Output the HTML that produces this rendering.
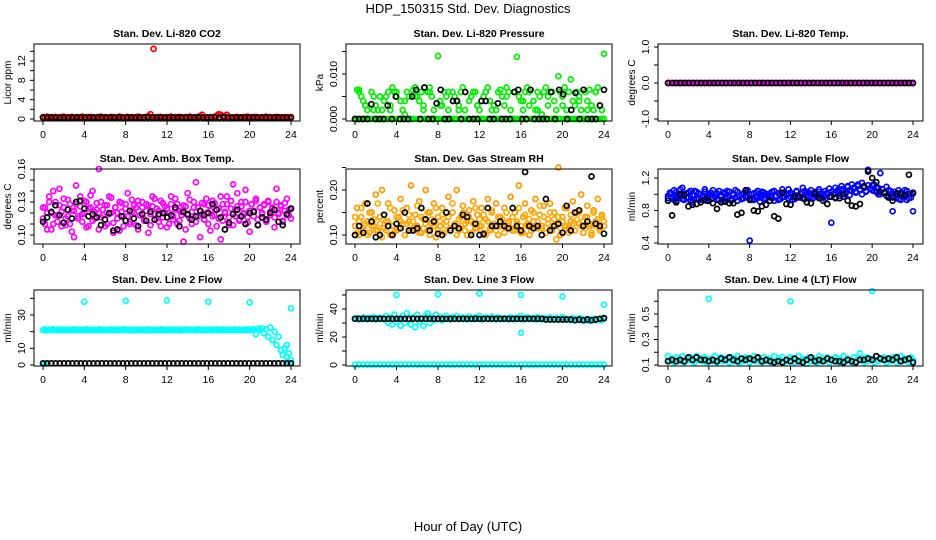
<!DOCTYPE html>
<html><head><meta charset="utf-8"><style>
html,body{margin:0;padding:0;background:#fff;}
svg{display:block;font-family:"Liberation Sans",sans-serif;}
</style></head><body>
<svg id="chart" width="936" height="540" viewBox="0 0 936 540">
<rect x="0" y="0" width="936" height="540" fill="#fff"/>
<text x="468" y="13" text-anchor="middle" font-size="13">HDP_150315  Std. Dev. Diagnostics</text>
<text x="468" y="531" text-anchor="middle" font-size="13">Hour of Day (UTC)</text>
</svg>
<script>
// ---------- data ----------
const hourTicks = [0,4,8,12,16,20,24];
const co2Red = [0.4,0.3,0.5,0.35,0.4,0.3,0.45,0.35,0.3,0.4,0.5,0.35,0.3,0.4,0.45,0.3,0.35,0.4,0.3,0.5,0.35,0.4,0.3,0.45,0.35,0.3,0.4,0.35,0.5,0.3,0.4,0.35,0.3,0.45,0.4,0.3,0.35,0.5,0.4,0.3,0.35,0.45,0.3,0.4,0.35,0.3,0.5,0.4,0.35,0.3,0.45,0.6,1.0,0.4,0.35,0.3,0.4,0.45,0.3,0.35,0.4,0.3,0.5,0.35,0.4,0.3,0.45,0.35,0.3,0.4,0.35,0.5,0.3,0.4,0.35,0.45,0.6,0.9,0.4,0.3,0.35,0.4,0.3,0.5,0.7,1.0,0.9,0.5,0.6,0.9,0.4,0.35,0.3,0.4,0.45,0.3,0.35,0.4,0.3,0.5,0.35,0.4,0.3,0.45,0.35,0.3,0.4,0.35,0.5,0.3,0.4,0.35,0.3,0.45,0.4,0.3,0.35,0.4,0.3,0.35,0.4];
const co2OutX = [10.7];
const co2OutY = [14.5];
const co2Black = [0.3,0.3,0.3,0.3,0.3,0.3,0.3,0.3,0.3,0.3,0.3,0.3,0.3,0.3,0.3,0.3,0.3,0.3,0.3,0.3,0.3,0.3,0.3,0.3,0.3,0.3,0.3,0.3,0.3,0.3,0.3,0.3,0.3,0.3,0.3,0.3,0.3,0.3,0.3,0.3,0.3,0.3,0.3,0.3,0.3,0.3,0.3,0.3,0.3,0.3,0.3,0.3,0.3,0.3,0.3,0.3,0.3,0.3,0.3,0.3];

// pressure in units of 0.001 kPa
const presGreenA = [0,6.5,6.5,5,4,3,2,0,6,5,3,2,0,2,4,5,6,3,7,6,5,0,4,2,1,6,5,0,6.5,7,5,4,6,3,0,6,7,5,2,0,14,4,3,6,5,2,0,6,5,4,3,6,7,2,0,4,5,6,6,3,2,0,5,6,7,4,2,3,0,6,6.5,5,3,7,6,2,0,6,13.8,5,4,2,6,7,3,0,4,2,6,5,1,6,7,3,0,6,4,2,9.5,6,5,7,2,0,8.8,4,3,6,5,2,0,6,4,6.5,3,2,6,7,3,2,14.5];
const presGreenB = [0,0,6,0,0,3,0,0,0,2,0,0,5,0,0,0,0,2,0,0,6,0,0,0,4,0,0,0,0,5,0,0,0,2,0,0,6,0,0,0,0,3,0,0,0,6,0,0,0,0,2,0,0,0,0,0,5,0,0,3,0,0,0,6,0,0,0,0,2,0,0,0,0,5,0,0,0,0,0,0,0,4,0,0,6,0,0,0,2,0,0,0,0,5,0,0,0,0,0,0,3,0,0,6,0,0,0,0,4,0,0,0,2,0,0,0,6,0,0,0,0];
const presBlack = [0,0,0,0,3.3,0,0,0,3,0,5,0,0,0,5,6.5,0,7,0,0,3.5,6.5,0,0,4,4,0,6,0,0,0,4,4,0,0,3.5,0,0,0,6,6.5,0,0,6.5,0,0,0,0,6,0,6.5,5.5,0,2,5.8,0,6.5,0,0,0,3,6.5];

const tempMag = [0,0,0,0,0,0,0,0,0,0,0,0,0,0,0,0,0,0,0,0,0,0,0,0,0,0,0,0,0,0,0,0,0,0,0,0,0,0,0,0,0,0,0,0,0,0,0,0,0,0,0,0,0,0,0,0,0,0,0,0,0,0,0,0,0,0,0,0,0,0,0,0,0,0,0,0,0,0,0,0,0,0,0,0,0,0,0,0,0,0,0,0,0,0,0,0,0,0,0,0,0,0,0,0,0,0,0,0,0,0,0,0,0,0,0,0,0,0,0,0,0];
const tempBlack = [0,0,0,0,0,0,0,0,0,0,0,0,0,0,0,0,0,0,0,0,0,0,0,0,0,0,0,0,0,0,0,0,0,0,0,0,0,0,0,0,0,0,0,0,0,0,0,0,0,0,0,0,0,0,0,0,0,0,0,0];

const ambMagA = [0.115,0.125,0.105,0.135,0.12,0.11,0.13,0.118,0.142,0.108,0.125,0.115,0.132,0.11,0.122,0.098,0.128,0.117,0.135,0.112,0.12,0.13,0.108,0.125,0.14,0.115,0.123,0.105,0.13,0.118,0.127,0.11,0.135,0.12,0.102,0.125,0.115,0.13,0.121,0.108,0.128,0.117,0.11,0.132,0.12,0.125,0.105,0.118,0.13,0.113,0.122,0.127,0.109,0.135,0.119,0.124,0.112,0.131,0.116,0.126,0.107,0.12,0.128,0.114,0.133,0.11,0.122,0.118,0.127,0.105,0.138,0.115,0.121,0.13,0.112,0.125,0.098,0.119,0.128,0.133,0.11,0.122,0.117,0.129,0.108,0.124,0.135,0.113,0.12,0.128,0.116,0.131,0.109,0.123,0.138,0.114,0.126,0.119,0.13,0.111,0.122,0.128,0.117,0.133,0.109,0.125,0.12,0.128,0.113,0.131,0.118,0.124,0.107,0.13,0.12,0.126,0.112,0.129,0.118,0.123,0.115];
const ambMagB = [0.125,0.11,0.12,0.13,0.105,0.14,0.118,0.112,0.127,0.121,0.133,0.109,0.117,0.128,0.103,0.122,0.145,0.115,0.126,0.119,0.131,0.107,0.124,0.136,0.113,0.121,0.129,0.16,0.116,0.123,0.108,0.127,0.119,0.134,0.111,0.125,0.12,0.104,0.129,0.117,0.124,0.138,0.112,0.121,0.127,0.109,0.131,0.118,0.125,0.114,0.128,0.102,0.119,0.126,0.133,0.115,0.122,0.108,0.129,0.12,0.124,0.11,0.135,0.117,0.123,0.128,0.113,0.121,0.094,0.126,0.118,0.132,0.11,0.125,0.148,0.117,0.122,0.129,0.114,0.12,0.127,0.104,0.131,0.118,0.123,0.115,0.096,0.128,0.121,0.135,0.109,0.124,0.146,0.117,0.126,0.113,0.13,0.12,0.141,0.116,0.103,0.128,0.122,0.131,0.114,0.125,0.119,0.127,0.112,0.13,0.121,0.125,0.116,0.142,0.119,0.127,0.113,0.122,0.133,0.118,0.124];
const ambBlack = [0.112,0.116,0.121,0.127,0.118,0.111,0.123,0.115,0.130,0.131,0.124,0.117,0.119,0.116,0.109,0.114,0.120,0.104,0.105,0.117,0.113,0.122,0.115,0.108,0.119,0.113,0.121,0.114,0.119,0.120,0.116,0.118,0.125,0.108,0.121,0.119,0.114,0.117,0.122,0.118,0.120,0.128,0.123,0.116,0.105,0.111,0.119,0.123,0.117,0.110,0.120,0.121,0.109,0.116,0.114,0.120,0.123,0.112,0.109,0.119,0.124];

const rhA = [0.12,0.16,0.10,0.14,0.11,0.17,0.13,0.105,0.15,0.12,0.19,0.11,0.14,0.20,0.115,0.13,0.17,0.10,0.12,0.155,0.11,0.14,0.18,0.125,0.10,0.16,0.13,0.21,0.115,0.145,0.12,0.175,0.105,0.135,0.20,0.11,0.15,0.125,0.17,0.095,0.14,0.12,0.16,0.105,0.13,0.185,0.115,0.15,0.12,0.20,0.11,0.14,0.165,0.125,0.10,0.155,0.13,0.175,0.115,0.145,0.12,0.16,0.105,0.135,0.18,0.11,0.15,0.125,0.17,0.10,0.14,0.12,0.16,0.115,0.13,0.185,0.11,0.15,0.125,0.21,0.105,0.14,0.17,0.12,0.10,0.155,0.13,0.18,0.115,0.145,0.12,0.165,0.105,0.135,0.17,0.11,0.15,0.125,0.25,0.10,0.14,0.12,0.16,0.115,0.13,0.175,0.11,0.15,0.125,0.19,0.105,0.14,0.165,0.12,0.10,0.155,0.13,0.18,0.115,0.145,0.12];
const rhB = [0.14,0.105,0.13,0.16,0.115,0.125,0.10,0.15,0.12,0.135,0.11,0.17,0.125,0.095,0.145,0.11,0.13,0.16,0.12,0.105,0.14,0.115,0.13,0.155,0.10,0.125,0.145,0.11,0.13,0.12,0.165,0.105,0.14,0.115,0.125,0.15,0.10,0.135,0.12,0.16,0.11,0.13,0.145,0.105,0.12,0.14,0.115,0.17,0.125,0.10,0.135,0.12,0.15,0.11,0.13,0.14,0.105,0.125,0.16,0.115,0.135,0.12,0.145,0.10,0.13,0.115,0.155,0.125,0.11,0.14,0.12,0.135,0.105,0.15,0.125,0.115,0.14,0.11,0.13,0.16,0.12,0.105,0.145,0.125,0.135,0.11,0.15,0.12,0.13,0.165,0.115,0.14,0.105,0.125,0.15,0.12,0.135,0.09,0.14,0.115,0.13,0.16,0.12,0.105,0.145,0.125,0.11,0.135,0.15,0.12,0.13,0.115,0.14,0.125,0.105,0.15,0.12,0.135,0.11,0.14,0.13];
const rhBlack = [0.10,0.12,0.105,0.17,0.13,0.095,0.10,0.145,0.12,0.10,0.125,0.115,0.15,0.11,0.11,0.115,0.16,0.135,0.11,0.13,0.103,0.10,0.15,0.11,0.12,0.115,0.145,0.14,0.10,0.125,0.10,0.102,0.16,0.12,0.12,0.13,0.12,0.115,0.16,0.12,0.11,0.24,0.12,0.115,0.12,0.10,0.18,0.11,0.12,0.125,0.105,0.165,0.11,0.15,0.155,0.12,0.13,0.23,0.125,0.12,0.103];

const flowBlueA = [0.98,1.02,0.95,1.05,0.92,1.0,0.97,1.08,0.93,1.01,0.96,1.04,0.9,0.99,1.03,0.94,1.0,0.97,1.06,0.92,0.98,1.02,0.95,1.0,0.93,1.04,0.97,0.91,1.01,0.96,1.03,0.94,0.99,1.05,0.92,0.98,1.0,0.95,1.02,0.97,0.43,0.93,1.01,0.96,1.04,0.91,0.99,1.02,0.95,1.0,0.97,1.03,0.92,0.98,1.01,0.94,1.06,0.97,1.0,0.95,1.02,0.93,0.99,1.04,0.96,1.0,1.08,0.94,1.02,0.97,1.05,0.95,1.01,0.98,1.03,0.96,1.0,0.94,1.02,0.97,0.65,1.0,0.95,1.03,0.98,1.06,0.97,1.01,1.1,0.99,1.04,1.08,1.02,1.12,1.05,1.0,1.09,1.03,1.3,1.07,1.11,1.04,1.08,1.0,1.26,1.06,1.02,1.09,0.98,1.04,0.79,1.0,0.96,1.05,0.93,1.01,0.97,1.04,0.95,1.0,0.79];
const flowBlueB = [0.95,1.0,0.97,0.93,1.03,0.98,1.06,0.94,1.0,0.96,1.02,0.92,0.99,1.04,0.95,1.01,0.93,0.98,1.03,0.96,1.0,0.94,1.05,0.97,1.01,0.93,0.99,1.02,0.95,1.04,0.97,0.92,1.0,0.96,1.03,0.98,0.94,1.01,0.97,1.05,0.95,1.0,0.93,1.02,0.98,0.96,1.03,0.94,1.0,0.97,1.01,0.95,1.04,0.98,0.93,1.0,0.96,1.02,0.99,1.06,0.97,1.0,0.94,1.03,0.98,1.01,0.95,1.04,0.99,1.02,0.96,1.0,1.03,0.97,1.06,1.0,0.97,1.04,1.01,1.07,1.03,1.0,1.08,1.05,1.02,1.1,1.06,1.03,1.09,1.05,1.12,1.07,1.03,1.1,1.06,1.14,1.08,1.04,1.11,1.07,1.05,1.12,1.03,1.08,1.0,1.06,1.02,0.98,1.05,1.0,0.96,1.03,0.99,0.94,1.02,0.97,1.05,0.93,1.0,0.96,1.02];
const flowBlack = [0.92,0.74,0.9,1.0,0.99,0.85,0.87,0.88,0.9,0.93,0.92,0.89,0.82,0.9,0.91,0.89,0.89,0.75,0.77,1.05,0.93,0.8,0.79,0.85,0.87,0.92,0.73,0.7,1.02,0.88,0.87,0.97,0.98,0.95,0.9,0.89,1.01,0.95,0.92,0.88,0.97,0.96,0.95,1.0,0.92,0.86,0.85,0.88,1.1,1.28,1.2,1.15,1.03,1.02,0.96,0.92,1.01,1.0,0.99,1.24,1.01];

const line2Cyan = [
21,21.3,20.8,21.2,21,21.4,20.9,21.1,21,21.3,
20.8,21.2,21,21.1,20.9,21.3,21,21.2,20.8,21.1,
21,21.4,20.9,21.2,21,21.1,20.8,21.3,21,21.2,
20.9,21.1,21,21.3,20.8,21.2,21,21.1,20.9,21.4,
21,21.2,20.8,21.1,21,21.3,20.9,21.2,21,21.1,
20.8,21.3,21,21.2,20.9,21.1,21,21.4,20.8,21.2,
21,21.1,20.9,21.3,21,21.2,20.8,21.1,21,21.3,
20.9,21.2,21,21.1,20.8,21.4,21,21.2,20.9,21.1,
21,21.3,20.8,21.2,21,21.1,20.9,21.3,21,21.2,
20.8,21.1,21,21.3,20.9,21.2,21,21.1,20.8,21.4,
21,21.2,21.5,18.5,21.8,21,22,19,21.5,17,
22.5,15,20,12,17,9,6,10,5,7,3];
const line2Low = [0.8,0.8,1.0,1.2,12];
const line2LowX = [0.1,0.2,23.8,24,23.6];
const line2OutX = [4,8,12,16,20,24];
const line2OutY = [38,38.5,38.7,38,37.5,34];
const line2Black = [1,1,1,1,1,1,1,1,1,1,1,1,1,1,1,1,1,1,1,1,1,1,1,1,1,1,1,1,1,1,1,1,1,1,1,1,1,1,1,1,1,1,1,1,1,1,1,1,1,1,1,1,1,1,1,1,1,1,1,1];

const line3Cyan = [33,33.5,32.5,33,34,33,32.8,33.5,33,34,32.5,33,33.8,33,32.6,35,30,34,29,36,31,33,28,35,30,37,32,29,34,27,36,31,33,28,35,37,30,34,32,36,33,34.5,32,33,35,33,32.5,34,33,35,32.8,33,34,33,32.5,34.5,33,32.8,34,33,35,32.5,33,34,33,32.8,34.5,33,32.5,34,33,32.8,33.5,33,32.5,34,33,32.6,33.8,33,35,32.5,33,34,32.8,33,33.5,32.5,34,33,32.6,33.5,32.8,33,34,32.5,33,33.5,32.4,33,34,32.5,33,32.8,32,33.5,32.5,33,32,33.5,32.4,32,33,31.5,32.5,33,31.8,32.5,33,32,33];
const line3Zero = [0.3,0.3,0.3,0.3,0.3,0.3,0.3,0.3,0.3,0.3,0.3,0.3,0.3,0.3,0.3,0.3,0.3,0.3,0.3,0.3,0.3,0.3,0.3,0.3,0.3,0.3,0.3,0.3,0.3,0.3,0.3,0.3,0.3,0.3,0.3,0.3,0.3,0.3,0.3,0.3,0.3,0.3,0.3,0.3,0.3,0.3,0.3,0.3,0.3,0.3,0.3,0.3,0.3,0.3,0.3,0.3,0.3,0.3,0.3,0.3,0.3];
const line3OutX = [4,8,12,16,20,24,16];
const line3OutY = [50,50.5,51,50,49,43,23];
const line3Black = [33,33,33,33,33,33,33,33,33,33,33,33,33,33,33,33,33,33,33,33,33,33,33,33,33,33,33,33,33,33,33,33,33,33,33,33,33,33,33,33,33,33,33,33,33,33,32.5,32.5,32.5,32.5,32.5,32.5,32.5,32,32.5,32,32.5,32,32.5,33,33.5];

const line4Cyan = [0.17,0.13,0.15,0.12,0.16,0.14,0.13,0.17,0.12,0.15,0.14,0.16,0.13,0.12,0.17,0.14,0.15,0.13,0.16,0.12,0.14,0.15,0.13,0.17,0.12,0.14,0.16,0.13,0.15,0.14,0.12,0.16,0.13,0.15,0.17,0.12,0.14,0.13,0.16,0.15,0.12,0.14,0.17,0.13,0.15,0.14,0.12,0.16,0.13,0.15,0.14,0.12,0.17,0.13,0.15,0.14,0.16,0.12,0.14,0.13,0.16,0.15,0.12,0.14,0.17,0.13,0.15,0.14,0.11,0.16,0.13,0.15,0.14,0.12,0.17,0.13,0.15,0.14,0.16,0.12,0.14,0.13,0.16,0.15,0.12,0.14,0.17,0.13,0.15,0.14,0.12,0.16,0.13,0.15,0.19,0.14,0.12,0.16,0.13,0.15,0.14,0.12,0.17,0.13,0.15,0.14,0.16,0.12,0.14,0.13,0.16,0.15,0.12,0.14,0.17,0.13,0.15,0.14,0.12,0.16,0.14];
const line4OutX = [4,12,20];
const line4OutY = [0.62,0.60,0.68];
const line4Black = [0.13,0.14,0.13,0.14,0.13,0.16,0.14,0.16,0.14,0.14,0.13,0.14,0.13,0.15,0.14,0.16,0.14,0.13,0.15,0.14,0.15,0.14,0.16,0.13,0.14,0.13,0.12,0.13,0.12,0.14,0.13,0.15,0.13,0.12,0.14,0.16,0.13,0.14,0.13,0.15,0.14,0.13,0.13,0.12,0.14,0.13,0.12,0.14,0.14,0.15,0.14,0.17,0.15,0.14,0.15,0.14,0.16,0.13,0.14,0.15,0.12];

// ---------- drawing ----------
const NS = 'http://www.w3.org/2000/svg';
const svg = document.getElementById('chart');
function mk(tag, attrs, parent){ const e=document.createElementNS(NS,tag); for(const k in attrs) e.setAttribute(k,attrs[k]); (parent||svg).appendChild(e); return e; }

function panel(cfg){
  const g = mk('g',{});
  
  
  const [bx0,by0,bx1,by1] = cfg.box;
  const xs = h => cfg.x0 + (cfg.x24-cfg.x0)*h/24;
  const ys = v => cfg.yRef0 + (v-cfg.v0)*(cfg.yRef1-cfg.yRef0)/(cfg.v1-cfg.v0);
  const title = mk('text',{x:(bx0+bx1)/2,y:by0-7,'text-anchor':'middle','font-size':'10.5','font-weight':'bold'},g);
  title.textContent = cfg.title;
  
  
  const pts = mk('g',{fill:'none','stroke-width':'1.7'},g);
  
  
  function series(vals, color, xsArr){
    vals.forEach((v,i)=>{
      const h = xsArr ? xsArr[i] : 24*i/(vals.length-1);
      const c = mk('circle',{cx:xs(h).toFixed(1),cy:ys(v).toFixed(1),r:'2.5',stroke:color},pts);
      
      
    });
  }
  cfg.series.forEach(s=>series(s.vals,s.color,s.x));
  const box = mk('rect',{x:bx0,y:by0,width:bx1-bx0,height:by1-by0,fill:'none',stroke:'#000','stroke-width':'1'},g);
  
  
  hourTicks.forEach(h=>{
    const x = xs(h);
    mk('line',{x1:x,y1:by1,x2:x,y2:by1+4,stroke:'#000'},g);
    const t = mk('text',{x:x,y:by1+17,'text-anchor':'middle','font-size':'10.5'},g);
    t.textContent = h;
    
    
  });
  cfg.yTicks.forEach(v=>{
    const y = ys(v);
    mk('line',{x1:bx0,y1:y,x2:bx0-4,y2:y,stroke:'#000'},g);
  });
  cfg.yLabels.forEach((v,i)=>{
    const y = ys(v);
    const t = mk('text',{x:0,y:0,'text-anchor':'middle','font-size':'10.5',transform:`translate(${bx0-9},${y}) rotate(-90)`},g);
    t.textContent = cfg.yLabelText[i];
    
    
  });
  const yt = mk('text',{x:0,y:0,'text-anchor':'middle','font-size':'10',transform:`translate(${bx0-23},${(by0+by1)/2}) rotate(-90)`},g);
  yt.textContent = cfg.ytitle;
  
  
}

const C1=[34,300,43,291], C2=[346,612,355,604], C3=[658,923,668,913];
const R1=[44,121], R2=[169,244], R3=[290,366];
function cfgBox(C,R){ return {box:[C[0],R[0],C[1],R[1]], x0:C[2], x24:C[3]}; }

panel(Object.assign(cfgBox(C1,R1),{name:'panel-co2',title:'Stan. Dev. Li-820 CO2',ytitle:'Licor ppm',
  v0:0,yRef0:119,v1:12,yRef1:61,yTicks:[0,2,4,6,8,10,12,14],yLabels:[0,4,8,12],yLabelText:['0','4','8','12'],
  series:[{vals:co2Red,color:'#ff0000'},{vals:co2OutY,color:'#ff0000',x:co2OutX},{vals:co2Black,color:'#000'}]}));
panel(Object.assign(cfgBox(C2,R1),{name:'panel-pressure',title:'Stan. Dev. Li-820 Pressure',ytitle:'kPa',
  v0:0,yRef0:119,v1:10,yRef1:74,yTicks:[0,5,10,15],yLabels:[0,10],yLabelText:['0.000','0.010'],
  series:[{vals:presGreenB,color:'#00ee00'},{vals:presGreenA,color:'#00ee00'},{vals:presBlack,color:'#000'}]}));
panel(Object.assign(cfgBox(C3,R1),{name:'panel-li820-temp',title:'Stan. Dev. Li-820 Temp.',ytitle:'degrees C',
  v0:0,yRef0:83,v1:1,yRef1:47,yTicks:[-1,-0.5,0,0.5,1],yLabels:[-1,0,1],yLabelText:['-1.0','0.0','1.0'],
  series:[{vals:tempMag,color:'#ff00ff'},{vals:tempBlack,color:'#000'}]}));
panel(Object.assign(cfgBox(C1,R2),{name:'panel-amb-box-temp',title:'Stan. Dev. Amb. Box Temp.',ytitle:'degrees C',
  v0:0.10,yRef0:235,v1:0.16,yRef1:169,yTicks:[0.10,0.11,0.12,0.13,0.14,0.15,0.16],yLabels:[0.10,0.13,0.16],yLabelText:['0.10','0.13','0.16'],
  series:[{vals:ambMagA,color:'#ff00ff'},{vals:ambMagB,color:'#ff00ff'},{vals:ambBlack,color:'#000'}]}));
panel(Object.assign(cfgBox(C2,R2),{name:'panel-gas-rh',title:'Stan. Dev. Gas Stream RH',ytitle:'percent',
  v0:0.10,yRef0:235,v1:0.20,yRef1:190,yTicks:[0.10,0.15,0.20,0.25],yLabels:[0.10,0.20],yLabelText:['0.10','0.20'],
  series:[{vals:rhA,color:'#ff9900'},{vals:rhB,color:'#ffaa00'},{vals:rhBlack,color:'#000'}]}));
panel(Object.assign(cfgBox(C3,R2),{name:'panel-sample-flow',title:'Stan. Dev. Sample Flow',ytitle:'ml/min',
  v0:0.4,yRef0:243,v1:1.2,yRef1:178,yTicks:[0.4,0.6,0.8,1.0,1.2],yLabels:[0.4,0.8,1.2],yLabelText:['0.4','0.8','1.2'],
  series:[{vals:flowBlueA,color:'#0000ff'},{vals:flowBlueB,color:'#0000ff'},{vals:flowBlack,color:'#000'}]}));
panel(Object.assign(cfgBox(C1,R3),{name:'panel-line2-flow',title:'Stan. Dev. Line 2 Flow',ytitle:'ml/min',
  v0:0,yRef0:365,v1:30,yRef1:315,yTicks:[0,10,20,30,40],yLabels:[0,10,30],yLabelText:['0','10','30'],
  series:[{vals:line2Cyan,color:'#00ffff'},{vals:line2Low,color:'#00ffff',x:line2LowX},{vals:line2OutY,color:'#00ffff',x:line2OutX},{vals:line2Black,color:'#000'}]}));
panel(Object.assign(cfgBox(C2,R3),{name:'panel-line3-flow',title:'Stan. Dev. Line 3 Flow',ytitle:'ml/min',
  v0:0,yRef0:365,v1:40,yRef1:309,yTicks:[0,10,20,30,40,50],yLabels:[0,20,40],yLabelText:['0','20','40'],
  series:[{vals:line3Zero,color:'#00ffff'},{vals:line3Cyan,color:'#00ffff'},{vals:line3OutY,color:'#00ffff',x:line3OutX},{vals:line3Black,color:'#000'}]}));
panel(Object.assign(cfgBox(C3,R3),{name:'panel-line4-flow',title:'Stan. Dev. Line 4 (LT) Flow',ytitle:'ml/min',
  v0:0.1,yRef0:365,v1:0.5,yRef1:314,yTicks:[0.1,0.2,0.3,0.4,0.5,0.6],yLabels:[0.1,0.3,0.5],yLabelText:['0.1','0.3','0.5'],
  series:[{vals:line4Cyan,color:'#00ffff'},{vals:line4OutY,color:'#00ffff',x:line4OutX},{vals:line4Black,color:'#000'}]}));
</script>
</body></html>
